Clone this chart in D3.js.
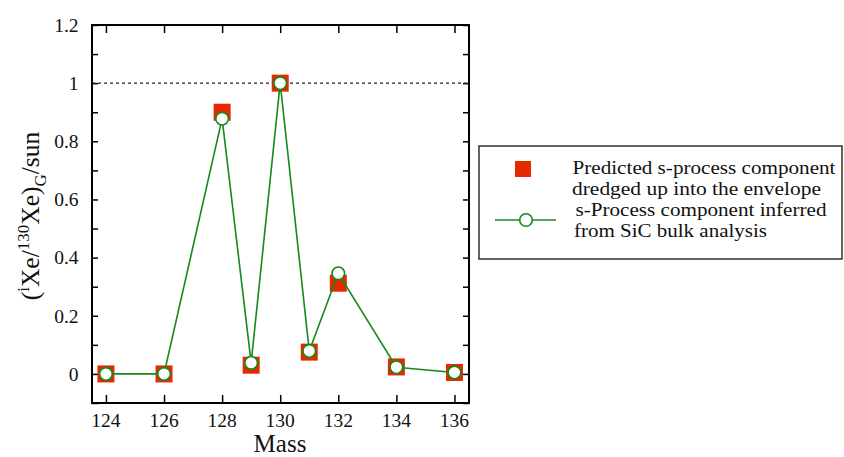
<!DOCTYPE html>
<html>
<head>
<meta charset="utf-8">
<script src="https://cdn.jsdelivr.net/npm/d3@7"></script>
<style>
  body { margin: 0; background: #fff; }
</style>
</head>
<body>
<svg id="chart"></svg>
<script>
const w = 844, h = 457;

// data
const masses = [124, 126, 128, 129, 130, 131, 132, 134, 136];
const predicted = [0, 0, 0.9, 0.03, 1.0, 0.075, 0.312, 0.024, 0.005];
const inferred = [0, 0, 0.878, 0.038, 1.0, 0.079, 0.346, 0.023, 0.005];
const xTicks = [124, 126, 128, 130, 132, 134, 136];
const yTicks = [0, 0.2, 0.4, 0.6, 0.8, 1, 1.2];
const yMinor = [-0.1, 0.1, 0.3, 0.5, 0.7, 0.9, 1.1];
const legendLabels = [
  ["Predicted s-process component", "dredged up into the envelope"],
  ["s-Process component inferred", "from SiC bulk analysis"]
];

const red = "#e42a00", green = "#15891a";
const font = "'Times New Roman', 'Liberation Serif', Times, 'DejaVu Serif', serif";
const m = {left: 92, top: 25, right: 469, bottom: 403};

const svg = d3.select("#chart").attr("width", w).attr("height", h)
  .style("font-family", font);

const x = d3.scaleLinear().domain([123.52, 136.5]).range([m.left, m.right]);
const y = d3.scaleLinear().domain([-0.1, 1.2]).range([m.bottom, m.top]);

// ticks, all pointing inward
const g = svg.append("g");
g.append("g").attr("transform", `translate(0,${m.bottom})`)
  .call(d3.axisBottom(x).tickValues(xTicks).tickSize(-8).tickFormat(""))
  .call(a => a.select(".domain").remove());
g.append("g").attr("transform", `translate(0,${m.top})`)
  .call(d3.axisTop(x).tickValues(xTicks).tickSize(-8).tickFormat(""))
  .call(a => a.select(".domain").remove());
g.append("g").attr("transform", `translate(${m.left},0)`)
  .call(d3.axisLeft(y).tickValues(yTicks.concat(yMinor)).tickSize(-6).tickFormat(""))
  .call(a => a.select(".domain").remove());
g.append("g").attr("transform", `translate(${m.right},0)`)
  .call(d3.axisRight(y).tickValues(yTicks.concat(yMinor)).tickSize(-6).tickFormat(""))
  .call(a => a.select(".domain").remove());
g.selectAll(".tick line").attr("stroke", "#000").attr("stroke-width", 1.5);

// tick labels
svg.append("g").selectAll("text").data(xTicks).join("text")
  .style("font-family", font)
  .attr("x", d => x(d)).attr("y", 426.5)
  .attr("text-anchor", "middle").attr("font-size", 19.5).attr("fill", "#111")
  .text(d => d);
svg.append("g").selectAll("text").data(yTicks).join("text")
  .style("font-family", font)
  .attr("x", 78.5).attr("y", d => y(d)).attr("dy", "0.35em")
  .attr("text-anchor", "end").attr("font-size", 19.5).attr("fill", "#111")
  .text(d => d);

// dotted reference line at 1
svg.append("line")
  .attr("x1", m.left).attr("x2", m.right).attr("y1", y(1)).attr("y2", y(1))
  .attr("stroke", "#222").attr("stroke-width", 1.3).attr("stroke-dasharray", "3,3");

// frame
svg.append("rect")
  .attr("x", m.left).attr("y", m.top)
  .attr("width", m.right - m.left).attr("height", m.bottom - m.top)
  .attr("fill", "none").attr("stroke", "#000").attr("stroke-width", 2);

// red squares
const sq = 17;
svg.append("g").selectAll("rect").data(masses).join("rect")
  .attr("x", (d, i) => x(d) - sq / 2).attr("y", (d, i) => y(predicted[i]) - sq / 2)
  .attr("width", sq).attr("height", sq).attr("fill", red);

// green line + open circles
const pts = masses.map((d, i) => [d, inferred[i]]);
svg.append("path").datum(pts)
  .attr("fill", "none").attr("stroke", green).attr("stroke-width", 1.6)
  .attr("d", d3.line().x(d => x(d[0])).y(d => y(d[1])));
svg.append("g").selectAll("circle").data(pts).join("circle")
  .attr("cx", d => x(d[0])).attr("cy", d => y(d[1])).attr("r", 6.3)
  .attr("fill", "#fff").attr("stroke", green).attr("stroke-width", 1.6);

// axis titles
svg.append("text").attr("x", 280).attr("y", 451.5).style("font-family", font)
  .attr("text-anchor", "middle").attr("font-size", 25).attr("fill", "#111").text("Mass");

const yl = svg.append("text").style("font-family", font)
  .attr("transform", `translate(39,${(m.top + m.bottom) / 2 + 2}) rotate(-90)`)
  .attr("text-anchor", "middle").attr("font-size", 25.5).attr("fill", "#111");
yl.append("tspan").text("(");
yl.append("tspan").attr("font-size", 17).attr("dy", -10).text("i");
yl.append("tspan").attr("dy", 10).text("Xe/");
yl.append("tspan").attr("font-size", 17).attr("dy", -10).text("130");
yl.append("tspan").attr("dy", 10).text("Xe)");
yl.append("tspan").attr("font-size", 17).attr("dy", 7).text("G");
yl.append("tspan").attr("dy", -7).text("/sun");

// legend
const lg = svg.append("g");
lg.append("rect").attr("x", 479).attr("y", 146).attr("width", 363).attr("height", 113)
  .attr("fill", "#fff").attr("stroke", "#111").attr("stroke-width", 1.3);
lg.append("rect").attr("x", 523 - 8).attr("y", 169 - 8).attr("width", 16).attr("height", 16).attr("fill", red);
lg.append("line").attr("x1", 495).attr("x2", 556).attr("y1", 220).attr("y2", 220)
  .attr("stroke", green).attr("stroke-width", 1.6);
lg.append("circle").attr("cx", 526).attr("cy", 220).attr("r", 6.3)
  .attr("fill", "#fff").attr("stroke", green).attr("stroke-width", 1.6);
// [x, baseline, text, width in the reference]
const lt = [[572.5, 174, legendLabels[0][0], 263], [572, 194.5, legendLabels[0][1], 249],
            [575.5, 216, legendLabels[1][0], 251], [574, 236.5, legendLabels[1][1], 193]];
lg.selectAll("text.l").data(lt).join("text")
  .style("font-family", font)
  .attr("x", d => d[0]).attr("y", d => d[1])
  .attr("textLength", d => d[3]).attr("lengthAdjust", "spacingAndGlyphs")
  .attr("font-size", 18.5).attr("fill", "#111").text(d => d[2]);
</script>
</body>
</html>
